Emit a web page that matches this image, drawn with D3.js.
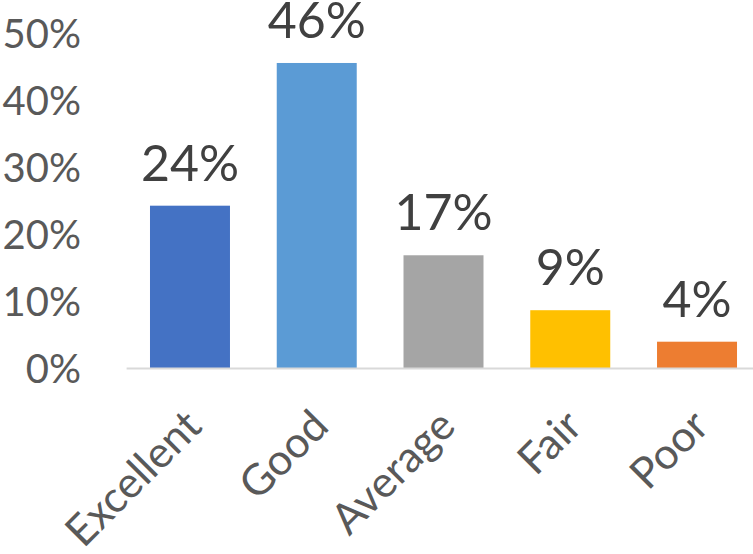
<!DOCTYPE html>
<html>
<head>
<meta charset="utf-8">
<script src="https://cdn.jsdelivr.net/npm/d3@7"></script>
<style>
  html, body { margin: 0; padding: 0; background: #fff; }
  svg { display: block; }
  text { font-family: Lato, "Open Sans", sans-serif; }
</style>
</head>
<body>
<svg id="chart" width="753" height="554"></svg>
<script>
const categories = ["Excellent", "Good", "Average", "Fair", "Poor"];
const values = [0.243, 0.456, 0.169, 0.087, 0.040];
const colors = ["#4472C4", "#5B9BD5", "#A5A5A5", "#FFC000", "#ED7D31"];
const yTicks = [0, 0.1, 0.2, 0.3, 0.4, 0.5];

const svg = d3.select("#chart");
const plotLeft = 126.6, plotRight = 760.4;
const baseY = 368.5, topY = 33.5;

const x = d3.scaleBand()
  .domain(categories)
  .range([plotLeft, plotRight])
  .paddingInner(0.369)
  .paddingOuter(0.1845);

const y = d3.scaleLinear().domain([0, 0.5]).range([baseY, topY]);

// Y axis labels (no line, no ticks)
const yAxis = d3.axisLeft(y).tickValues(yTicks).tickFormat(d3.format(".0%")).tickSize(0).tickPadding(0);
const yg = svg.append("g").attr("transform", "translate(81,0)").call(yAxis);
yg.select(".domain").remove();
yg.selectAll("text")
  .attr("fill", "#595959")
  .style("font-size", "40px")
  .style("font-family", "Lato, 'Open Sans', sans-serif")
  .attr("dy", "0.34em");

// Bars
svg.append("g").selectAll("rect")
  .data(categories)
  .join("rect")
  .attr("x", d => x(d))
  .attr("width", x.bandwidth())
  .attr("y", (d, i) => y(values[i]))
  .attr("height", (d, i) => baseY - y(values[i]))
  .attr("fill", (d, i) => colors[i]);

// X axis line
const xAxis = d3.axisBottom(x).tickSize(0).tickPadding(0);
const xg = svg.append("g").attr("transform", `translate(0,${baseY})`).call(xAxis);
xg.select(".domain").attr("stroke", "#D9D9D9").attr("stroke-width", 2)
  .attr("d", `M${plotLeft},0H${plotRight}`);
xg.selectAll(".tick text")
  .attr("fill", "#595959")
  .style("font-size", "43px")
  .style("font-family", "Lato, 'Open Sans', sans-serif")
  .attr("text-anchor", "end")
  .attr("dy", null)
  .attr("y", 0)
  .attr("transform", "translate(14,60) rotate(-45)");

// Data labels
svg.append("g").selectAll("text")
  .data(categories)
  .join("text")
  .attr("x", d => x(d) + x.bandwidth() / 2)
  .attr("y", (d, i) => y(values[i]) - 25)
  .attr("text-anchor", "middle")
  .attr("fill", "#404040")
  .style("font-size", "50px")
  .text((d, i) => d3.format(".0%")(values[i]));
</script>
</body>
</html>
